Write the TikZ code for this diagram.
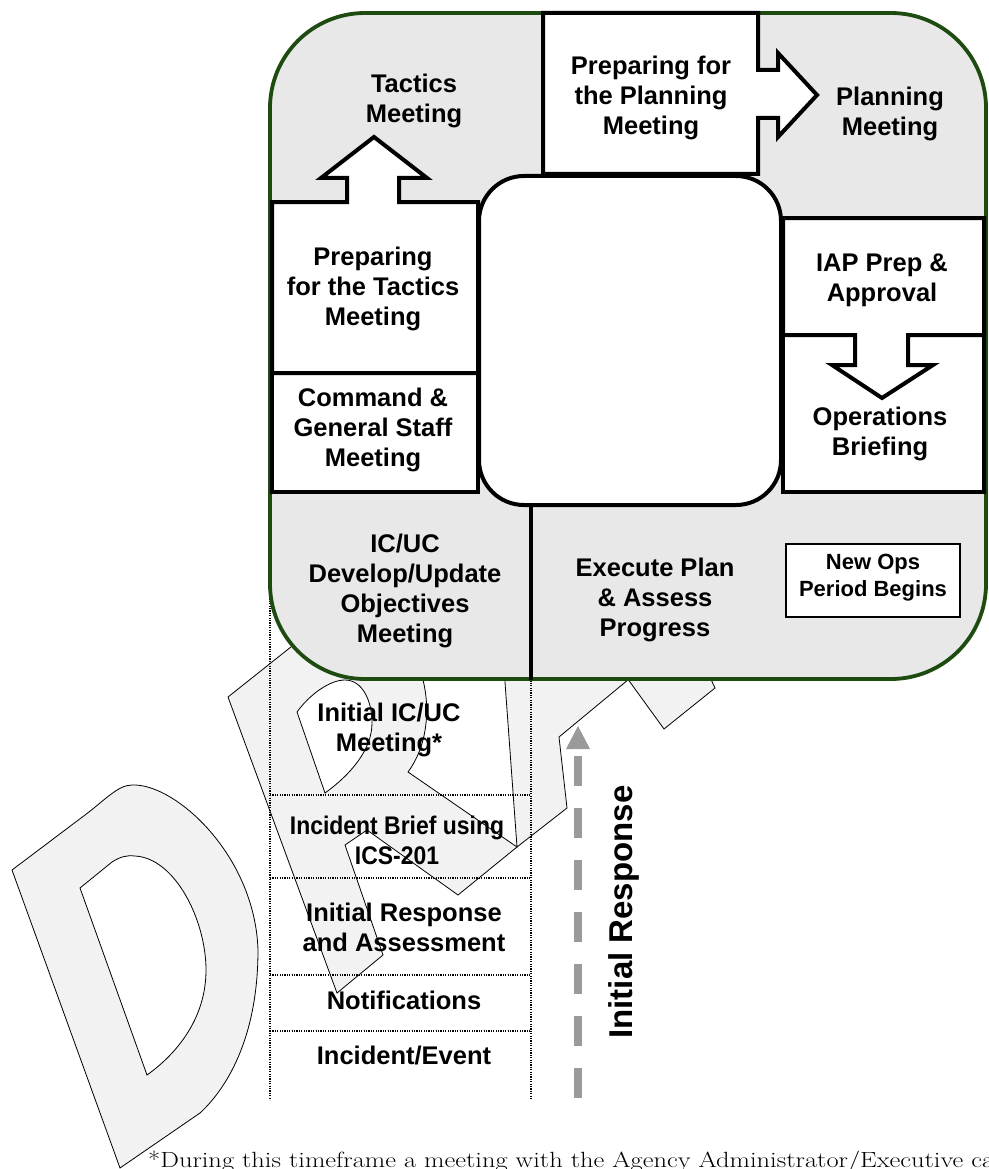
\documentclass[tikz,border=0pt]{standalone}
\usepackage{fontspec}
\usepackage{graphicx}
\newfontfamily\labsans{Liberation Sans}
\definecolor{panelgray}{HTML}{E8E8E8}
\definecolor{framegreen}{HTML}{1E4B10}
\definecolor{markfill}{HTML}{F2F2F2}
\definecolor{cuegray}{HTML}{9A9A9A}
\tikzset{
  boxline/.style={draw=black, fill=white, line width=4pt, line join=miter},
  txt/.style={font=\labsans\bfseries\fontsize{25.5}{30}\selectfont, align=center, inner sep=0pt},
  smalltxt/.style={font=\labsans\bfseries\fontsize{22}{27}\selectfont, align=center, inner sep=0pt},
  wmark/.style={fill=markfill, draw=black, line width=0.8pt, even odd rule, line join=miter},
  dotline/.style={line width=1.6pt, dash pattern=on 1.2pt off 1.2pt},
}
\begin{document}
\begin{tikzpicture}[x=1pt,y=-1pt]
\useasboundingbox (0,0) rectangle (988,1169);
\fill[white] (0,0) rectangle (988,1169);

% ---- DRAFT watermark (only the parts outside the cycle panel show) ----
% D
\path[wmark] (12,870) -- (85,815) .. controls (105,800) and (118,785) .. (132,785)
  .. controls (175,783) and (255,855) .. (258,950)
  .. controls (258,1040) and (225,1090) .. (200,1113) -- (120,1168) -- cycle
  (80,888) -- (112,862) .. controls (120,857) and (126,855) .. (135,856)
  .. controls (175,858) and (206,920) .. (206,970)
  .. controls (206,1020) and (175,1055) .. (147,1075) -- cycle;
% R
\path[wmark] (350,600) -- (228,697) -- (337,993) -- (383,955) -- (345,845) -- (367,830)
  -- (458,895) -- (517,847) -- (408,772) .. controls (426,748) and (431,712) .. (423,680)
  -- (425,600) -- cycle
  (297,712) .. controls (310,694) and (330,680) .. (345,680)
  .. controls (362,680) and (372,700) .. (372,723)
  .. controls (372,750) and (350,775) .. (325,793) -- cycle;
% A
\path[wmark] (499,600) -- (517,847) -- (567,808) -- (559,737) -- (652,660) -- (640,600) -- cycle;
\path[wmark] (614,660) -- (664,729) -- (715,688) -- (702,660) -- cycle;

% ---- initial response column ----
\draw[dotline] (270,560) -- (270,1100);
\draw[dotline] (531,678) -- (531,1100);
\foreach \yy in {795,878,975,1031} \draw[dotline] (270,\yy) -- (531,\yy);

\node[txt] (icuc) at (389,730) {Initial IC/UC\\Meeting*};
\node[txt] (brief) at (397,840) {\scalebox{0.9}[1]{Incident Brief using}\\\scalebox{0.9}[1]{ICS-201}};
\node[txt] (assess) at (404,927) {Initial Response\\and Assessment};
\node[txt] (notif) at (404,1000) {Notifications};
\node[txt] (event) at (404,1056) {Incident/Event};

% dashed upward cue
\coordinate (cuetip) at (578,726);
\coordinate (cuebase) at (578,749);
\coordinate (cuestart) at (578,756);
\coordinate (cuefoot) at (578,1100);
\fill[cuegray] ([xshift=-12pt]cuebase) -- (cuetip) -- ([xshift=12pt]cuebase) -- cycle;
\draw[cuegray, line width=8pt, dash pattern=on 30pt off 22pt] (cuestart) -- (cuefoot);
\node[rotate=90, anchor=base, inner sep=0pt, font=\labsans\bfseries\fontsize{33}{36}\selectfont] (initresp) at (632,912) {Initial Response};

% footnote (runs past the right edge of the page)
\node[anchor=base west, inner sep=0pt] (note) at (148,1167)
  {\resizebox{846pt}{\height}{\fontsize{22}{24}\selectfont *During this timeframe a meeting with the Agency Administrator/Executive ca}};

% ---- planning cycle panel ----
\draw[framegreen, line width=3.8pt, fill=panelgray, rounded corners=95pt] (270,13) rectangle (986,679);

% top box with right arrow
\draw[boxline] (543,13) -- (758,13) -- (758,70) -- (778,70) -- (778,53) -- (817,95)
  -- (778,137) -- (778,118) -- (758,118) -- (758,174) -- (543,174) -- cycle;
% right boxes with down arrow
\draw[boxline] (783,335) rectangle (984,492);
\draw[boxline] (783,218) -- (984,218) -- (984,335) -- (908,335) -- (908,365) -- (933,365)
  -- (882,398) -- (832,365) -- (855,365) -- (855,335) -- (783,335) -- cycle;
% left boxes with up arrow
\draw[boxline] (272,373) rectangle (478,492);
\draw[boxline] (272,202) -- (347,202) -- (347,178) -- (321,178) -- (374,137) -- (427,178)
  -- (399,178) -- (399,202) -- (478,202) -- (478,373) -- (272,373) -- cycle;
% centre hub
\draw[boxline, rounded corners=45pt] (479,176) rectangle (781,505);
% divider in the lower band
\draw[line width=4pt] (531,505) -- (531,680);
% new period box
\draw[black, fill=white, line width=1.5pt] (786,544) rectangle (960,617);

\node[txt] (tactics) at (414,101) {Tactics\\Meeting};
\node[txt] (prepplan) at (651,98) {Preparing for\\the Planning\\Meeting};
\node[txt] (planning) at (890,114) {Planning\\Meeting};
\node[txt] (preptac) at (373,289) {Preparing\\for the Tactics\\Meeting};
\node[txt] (cgs) at (373,430) {Command \&\\General Staff\\Meeting};
\node[txt] (iap) at (882,280) {IAP Prep \&\\Approval};
\node[txt] (opsbrief) at (880,434) {Operations\\Briefing};
\node[txt] (objectives) at (405,591) {IC/UC\\Develop/Update\\Objectives\\Meeting};
\node[txt] (execute) at (655,600) {Execute Plan\\\& Assess\\Progress};
\node[smalltxt] (newops) at (873,578) {New Ops\\Period Begins};
\end{tikzpicture}
\end{document}
